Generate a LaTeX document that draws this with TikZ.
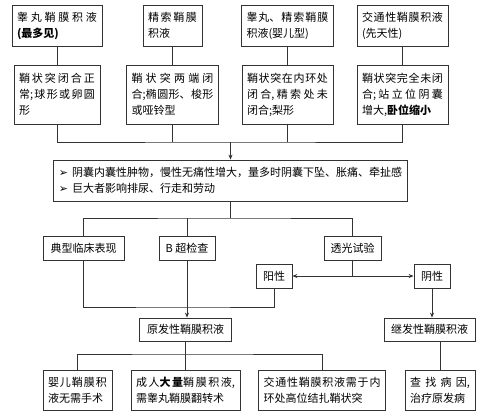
\documentclass[tikz,border=0pt]{standalone}
\usepackage{fontspec}
\setmainfont{Noto Sans CJK SC}
\newfontfamily\symfont{DejaVu Sans}
\usetikzlibrary{arrows.meta}
\XeTeXlinebreaklocale "zh"
\XeTeXlinebreakskip=0pt plus 4pt
\tolerance=10000 \hbadness=10000
\tikzset{
  box/.style={draw=black!80, line width=0.8pt, fill=white, inner xsep=5pt, inner ysep=3pt,
    font=\fontsize{11}{16}\selectfont},
  para/.style={box, align=justify},
  line/.style={draw=black!80, line width=0.8pt},
  arr/.style={line, -{Stealth[length=5pt,width=4pt]}},
  dbl/.style={line, {Stealth[length=5pt,width=4pt]}-{Stealth[length=5pt,width=4pt]}},
}
\begin{document}
\begin{tikzpicture}[x=1pt, y=-1pt]
  \useasboundingbox (0,0) rectangle (500,416);
  \node[para, text width=80pt, minimum height=41pt] (t1) at (57,25.5) {睾丸鞘膜积液\linebreak\textbf{(最多见)}};
  \node[para, text width=49pt, minimum height=41pt] (t2) at (172.5,25.5) {精索鞘膜\linebreak 积液};
  \node[para, text width=82pt, minimum height=41pt] (t3) at (287.5,25.5) {睾丸、精索鞘膜\linebreak 积液(婴儿型)};
  \node[para, text width=81pt, minimum height=41pt] (t4) at (402.5,25.5) {交通性鞘膜积液\linebreak(先天性)};

  \node[para, text width=76pt, minimum height=59pt] (d1) at (57,94.5) {鞘状突闭合正\linebreak 常;球形或卵圆\linebreak 形};
  \node[para, text width=82pt, minimum height=59pt] (d2) at (172.5,94.5) {鞘状突两端闭\linebreak 合;椭圆形、梭形\linebreak 或哑铃型};
  \node[para, text width=81pt, minimum height=59pt] (d3) at (287.5,94.5) {鞘状突在内环处\linebreak 闭合,精索处未\linebreak 闭合;梨形};
  \node[para, text width=81pt, minimum height=59pt] (d4) at (402.5,94.5) {鞘状突完全未闭\linebreak 合;站立位阴囊\linebreak 增大,\textbf{卧位缩小}};

  \node[box, align=left, minimum width=347pt, minimum height=41pt] (sym) at (230.5,180.5)
    {{\symfont ➢}\hspace{4pt}阴囊内囊性肿物，慢性无痛性增大，量多时阴囊下坠、胀痛、牵扯感\\{\symfont ➢}\hspace{4pt}巨大者影响排尿、行走和劳动};

  \node[box, minimum width=81pt, minimum height=24pt] (tc) at (83.5,248) {典型临床表现};
  \node[box, minimum width=56pt, minimum height=24pt] (bu) at (187,248) {B 超检查};
  \node[box, minimum width=57pt, minimum height=24pt] (gs) at (352.5,248) {透光试验};
  \node[box, minimum width=36pt, minimum height=24pt] (pos) at (274,276) {阳性};
  \node[box, minimum width=36pt, minimum height=24pt] (neg) at (432,276) {阴性};

  \node[box, minimum width=92pt, minimum height=23pt] (pf) at (185.5,329.5) {原发性鞘膜积液};
  \node[box, minimum width=91pt, minimum height=23pt] (sf) at (429.5,329.5) {继发性鞘膜积液};

  \node[para, text width=59pt, minimum height=40pt] (b1) at (77.5,390) {婴儿鞘膜积\linebreak 液无需手术};
  \node[para, text width=99pt, minimum height=40pt] (b2) at (185.5,390) {成人\textbf{大量}鞘膜积液,\linebreak 需睾丸鞘膜翻转术};
  \node[para, text width=117pt, minimum height=40pt] (b3) at (322,390) {交通性鞘膜积液需于内\linebreak 环处高位结扎鞘状突};
  \node[para, text width=60pt, minimum height=40pt] (b4) at (440,390) {查找病因,\linebreak 治疗原发病};

  \draw[line] (t1) -- (d1);
  \draw[line] (t2) -- (d2);
  \draw[line] (t3) -- (d3);
  \draw[line] (t4) -- (d4);
  \coordinate (m) at (230.5,142);
  \draw[line] (d1) |- (m) -| (d4);
  \draw[line] (d2) -- (d2 |- m);
  \draw[line] (d3) -- (d3 |- m);
  \draw[arr] (m) -- (sym);

  \coordinate (s) at (230.5,218);
  \draw[line] (sym) -- (s);
  \draw[line] (tc) |- (s) -| (gs);
  \draw[line] (bu) -- (bu |- s);
  \draw[line] (gs) -- (gs |- pos);
  \draw[dbl] (pos) -- (neg);
  \coordinate (j) at (187,307);
  \draw[line] (tc) |- (j) -| (pos);
  \draw[arr] (bu) -- (bu |- pf.north);
  \draw[arr] (neg) -- (neg |- sf.north);

  \coordinate (p) at (185.5,354);
  \draw[line] (pf) -- (b2);
  \draw[line] (b1) |- (p) -| (b3);
  \draw[line] (sf.south -| b4) -- (b4);
\end{tikzpicture}
\end{document}
